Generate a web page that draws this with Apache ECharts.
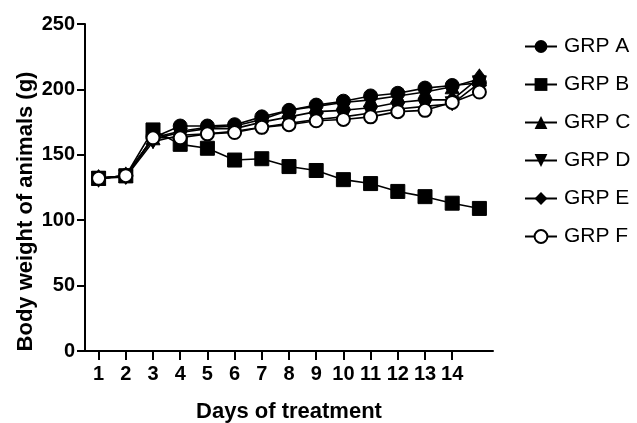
<!DOCTYPE html>
<html><head><meta charset="utf-8">
<script src="https://cdn.jsdelivr.net/npm/echarts@6/dist/echarts.min.js"></script>
<style>html,body{margin:0;padding:0;background:#fff}#c{width:637px;height:423px}</style>
</head><body><div id="c"></div>
<script>
const days = ['1','2','3','4','5','6','7','8','9','10','11','12','13','14','15'];
const dayLabels = ['1','2','3','4','5','6','7','8','9','10','11','12','13','14',''];
const grpA = [132,134,163,172,172,173,179,184,188,191,195,197,201,203,205];
const grpB = [132,134,169,158,155,146,147,141,138,131,128,122,118,113,109];
const grpC = [132,134,163,168,171,172,177,184,187,190,192,195,198,202,208];
const grpD = [132,133,160,165,166,168,171,174,177,179,182,185,187,189,205];
const grpE = [132,134,162,167,170,170,175,179,183,184,186,190,192,192,209];
const grpF = [132,134,163,163,166,167,171,173,176,177,179,183,184,190,198];
const yTicks = [0,50,100,150,200,250];

const font = 'Liberation Sans, Arial, sans-serif';
function mk(name, data, symbol, extra) {
  return Object.assign({
    name, type: 'line', data, symbol, symbolSize: 14,
    lineStyle: {color: '#000', width: 1.6},
    itemStyle: {color: '#000', borderColor: '#000'},
    emphasis: {disabled: true}
  }, extra || {});
}
const chart = echarts.init(document.getElementById('c'), null, {renderer: 'canvas'});
chart.setOption({
  animation: false,
  backgroundColor: '#fff',
  grid: {left: 85, right: 144, top: 24, bottom: 72, containLabel: false, outerBoundsMode: 'none'},
  xAxis: {
    type: 'category', data: days, boundaryGap: true,
    name: 'Days of treatment', nameLocation: 'middle', nameGap: 50, nameMoveOverlap: false,
    nameTextStyle: {fontFamily: font, fontWeight: 'bold', fontSize: 22, color: '#000'},
    axisLine: {lineStyle: {color: '#000', width: 2}},
    axisTick: {show: true, alignWithLabel: true, inside: false, length: 9,
      interval: (i) => i < 14, lineStyle: {color: '#000', width: 2}},
    axisLabel: {interval: 0, margin: 13, fontFamily: font, fontWeight: 'bold', fontSize: 20, color: '#000',
      formatter: (v, i) => dayLabels[i]},
    splitLine: {show: false}
  },
  yAxis: {
    type: 'value', min: yTicks[0], max: yTicks[yTicks.length-1], interval: 50,
    name: 'Body weight of animals (g)', nameLocation: 'middle', nameGap: 48, nameRotate: 90, nameMoveOverlap: false,
    nameTextStyle: {fontFamily: font, fontWeight: 'bold', fontSize: 22, color: '#000', padding: [0, 48, 0, 0]},
    axisLine: {show: true, lineStyle: {color: '#000', width: 2}},
    axisTick: {show: true, length: 8, lineStyle: {color: '#000', width: 2}},
    axisLabel: {margin: 10, fontFamily: font, fontWeight: 'bold', fontSize: 20, color: '#000'},
    splitLine: {show: false}
  },
  legend: {
    orient: 'vertical', left: 519, top: 31, itemWidth: 32, itemHeight: 16, itemGap: 17,
    textStyle: {fontFamily: font, fontSize: 21, color: '#000', padding: [0,0,0,2]},
    data: ['GRP A','GRP B','GRP C','GRP D','GRP E','GRP F']
  },
  series: [
    mk('GRP A', grpA, 'circle'),
    mk('GRP B', grpB, 'rect'),
    mk('GRP C', grpC, 'triangle'),
    mk('GRP D', grpD, 'triangle', {symbolRotate: 180}),
    mk('GRP E', grpE, 'diamond', {symbolSize: [13, 17]}),
    mk('GRP F', grpF, 'emptyCircle', {symbolSize: 13, itemStyle: {color: '#000', borderColor: '#000', borderWidth: 2}})
  ]
});
</script></body></html>
